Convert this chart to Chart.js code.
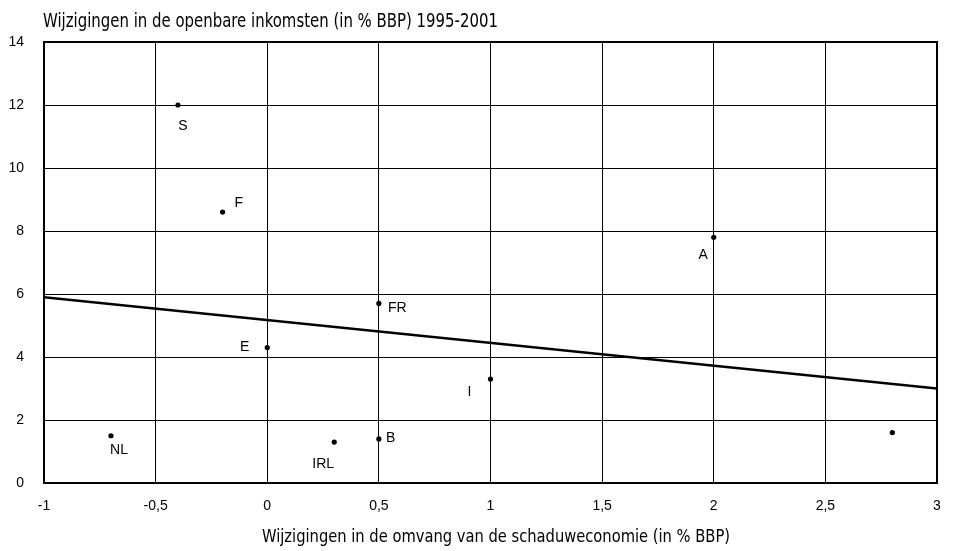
<!DOCTYPE html>
<html>
<head>
<meta charset="utf-8">
<script src="https://cdn.jsdelivr.net/npm/chart.js@4/dist/chart.umd.min.js"></script>
<style>
  html, body { margin: 0; padding: 0; background: #fff; }
  #wrap { position: relative; width: 953px; height: 551px; }
</style>
</head>
<body>
<div id="wrap"><canvas id="chart"></canvas></div>
<script>
// countries and their values
var countries = ['S', 'F', 'A', 'FR', 'E', 'I', 'NL', 'IRL', 'B', ''];
var shadowChange = [-0.4, -0.2, 2.0, 0.5, 0.0, 1.0, -0.7, 0.3, 0.5, 2.8];
var revenueChange = [12.0, 8.6, 7.8, 5.7, 4.3, 3.3, 1.5, 1.3, 1.4, 1.6];

// trend line end points
var trendX = [-1, 3];
var trendY = [5.9, 3.0];

var xTicks = [-1, -0.5, 0, 0.5, 1, 1.5, 2, 2.5, 3];
var yTicks = [0, 2, 4, 6, 8, 10, 12, 14];

var chartTitle = 'Wijzigingen in de openbare inkomsten (in % BBP) 1995-2001';
var xTitle = 'Wijzigingen in de omvang van de schaduweconomie (in % BBP)';

var narrow = '"DejaVu Sans Condensed", sans-serif';
var sans = '"Liberation Sans", Arial, sans-serif';

// where each label sits relative to its dot: dx, dy, align
var labelPos = {
  S: [5, 21, 'center'],
  F: [12, -9, 'left'],
  A: [-6, 18, 'right'],
  FR: [9, 5, 'left'],
  E: [-18, 0, 'right'],
  I: [-21, 13, 'center'],
  NL: [8, 14, 'center'],
  IRL: [-11, 22, 'center'],
  B: [7, -1, 'left']
};

var pointLabels = {
  id: 'pointLabels',
  afterDatasetsDraw: function (chart) {
    var ctx = chart.ctx;
    var meta = chart.getDatasetMeta(1);
    ctx.save();
    ctx.fillStyle = '#000';
    ctx.font = '14px ' + sans;
    ctx.textBaseline = 'middle';
    meta.data.forEach(function (pt, i) {
      var name = countries[i];
      if (!name) return;
      var p = labelPos[name];
      ctx.textAlign = p[2];
      ctx.fillText(name, pt.x + p[0], pt.y + p[1]);
    });
    ctx.restore();
  }
};

// condensed text: squeeze horizontally to the target width
function squeezed(ctx, text, x, y, width) {
  var w = ctx.measureText(text).width;
  var k = width / w;
  ctx.save();
  ctx.translate(x, y);
  ctx.scale(k, 1);
  ctx.textAlign = 'left';
  ctx.fillText(text, 0, 0);
  ctx.restore();
}

var titleDraw = {
  id: 'titleDraw',
  afterDraw: function (chart) {
    var ctx = chart.ctx;
    var a = chart.chartArea;
    ctx.save();
    // heavier frame round the plot
    ctx.strokeStyle = '#000';
    ctx.lineWidth = 2;
    ctx.strokeRect(a.left, a.top, a.right - a.left, a.bottom - a.top);
    ctx.fillStyle = '#000';
    ctx.textBaseline = 'alphabetic';
    ctx.font = '19px ' + narrow;
    squeezed(ctx, chartTitle, a.left - 1, 27, 455);
    ctx.font = '18px ' + narrow;
    squeezed(ctx, xTitle, 262, 542, 468);
    ctx.restore();
  }
};

var fmt = function (v) { return String(v).replace('.', ','); };

new Chart(document.getElementById('chart'), {
  type: 'scatter',
  data: {
    datasets: [{
      type: 'line',
      data: trendX.map(function (x, i) { return {x: x, y: trendY[i]}; }),
      borderColor: '#000',
      borderWidth: 2.5,
      pointRadius: 0,
      fill: false
    }, {
      data: shadowChange.map(function (x, i) { return {x: x, y: revenueChange[i]}; }),
      backgroundColor: '#000',
      borderColor: '#000',
      pointRadius: 2.6,
      pointBorderWidth: 0
    }]
  },
  plugins: [pointLabels, titleDraw],
  options: {
    responsive: true,
    maintainAspectRatio: false,
    animation: false,
    layout: { padding: { top: 42, right: 16, left: 0, bottom: 0 } },
    plugins: {
      legend: { display: false },
      title: { display: false },
      tooltip: { enabled: false }
    },
    scales: {
      x: {
        type: 'linear',
        min: -1, max: 3,
        afterBuildTicks: function (s) { s.ticks = xTicks.map(function (v) { return {value: v}; }); },
        afterFit: function (s) { s.height = 68; s.paddingLeft = 0; s.paddingRight = 0; },
        ticks: { color: '#000', font: { family: sans, size: 14 }, padding: 15, callback: fmt, maxRotation: 0 },
        grid: { color: '#000', lineWidth: 1, drawTicks: false },
        border: { display: true, color: '#000', width: 2 }
      },
      y: {
        type: 'linear',
        min: 0, max: 14,
        afterBuildTicks: function (s) { s.ticks = yTicks.map(function (v) { return {value: v}; }); },
        afterFit: function (s) { s.width = 44; },
        ticks: { color: '#000', font: { family: sans, size: 14 }, padding: 20, callback: fmt },
        grid: { color: '#000', lineWidth: 1, drawTicks: false },
        border: { display: true, color: '#000', width: 2 }
      }
    }
  }
});
</script>
</body>
</html>
